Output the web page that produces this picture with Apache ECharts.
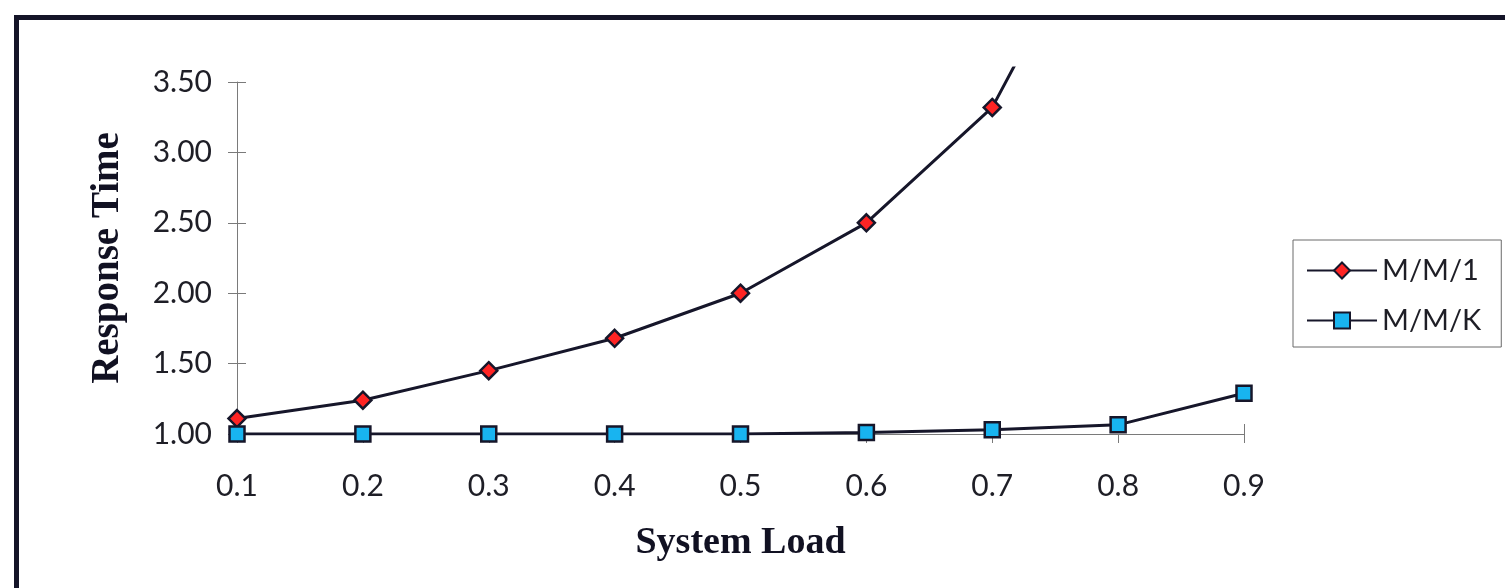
<!DOCTYPE html>
<html>
<head>
<meta charset="utf-8">
<script src="https://cdn.jsdelivr.net/npm/echarts@6/dist/echarts.min.js"></script>
<style>
  html, body { margin: 0; padding: 0; background: #ffffff; }
  #chart { width: 1505px; height: 588px; }
</style>
</head>
<body>
<div id="chart"></div>
<script>
// System load levels (x axis)
const loads = ['0.1', '0.2', '0.3', '0.4', '0.5', '0.6', '0.7', '0.8', '0.9'];
// Mean response time, single-server queue
const mm1 = [1.11, 1.24, 1.45, 1.68, 2.00, 2.50, 3.32, 5.00, 10.00];
// Mean response time, multi-server queue
const mmk = [1.00, 1.00, 1.00, 1.00, 1.00, 1.01, 1.03, 1.065, 1.29];
const seriesNames = ['M/M/1', 'M/M/K'];

const tickFont = 'Lato, "DejaVu Sans", sans-serif';
const titleFont = '"Liberation Serif", "Times New Roman", serif';
const axisGrey = '#7a7a7a';
const lineInk = '#16162a';
const textInk = '#1e1e26';

const chart = echarts.init(document.getElementById('chart'), null, { renderer: 'canvas' });

const plot = { left: 237, right: 261, bottom: 154 };

chart.setOption({
  backgroundColor: '#ffffff',
  animation: false,
  graphic: [{
    type: 'rect',
    shape: { x: 16.5, y: 17.5, width: 1700, height: 800 },
    style: { fill: 'none', stroke: '#141428', lineWidth: 5 },
    silent: true
  }],
  grid: [
    // axes frame
    { left: plot.left, right: plot.right, top: 82, bottom: plot.bottom },
    // data area (slightly taller so the steep curve runs past the top tick)
    { left: plot.left, right: plot.right, top: 68, bottom: plot.bottom }
  ],
  xAxis: [
    {
      gridIndex: 0, type: 'category', data: loads, boundaryGap: false,
      name: 'System Load', nameLocation: 'middle', nameGap: 90,
      nameTextStyle: { fontFamily: titleFont, fontWeight: 'bold', fontSize: 38, color: '#111122' },
      axisLine: { lineStyle: { color: axisGrey, width: 1 } },
      axisTick: { alignWithLabel: true, length: 9, lineStyle: { color: axisGrey } },
      axisLabel: { margin: 37, fontFamily: tickFont, fontWeight: 400, fontSize: 30, color: textInk },
      splitLine: { show: false }
    },
    {
      gridIndex: 0, type: 'category', data: loads, boundaryGap: false, position: 'bottom',
      axisLine: { show: false },
      axisTick: { inside: true, length: 10, interval: (i) => i === loads.length - 1, lineStyle: { color: axisGrey } },
      axisLabel: { show: false }, splitLine: { show: false }
    },
    {
      gridIndex: 1, type: 'category', data: loads, boundaryGap: false, show: false
    }
  ],
  yAxis: [
    {
      gridIndex: 0, type: 'value', min: 1, max: 3.5, interval: 0.5,
      name: 'Response Time', nameLocation: 'middle', nameGap: 110, nameRotate: 90,
      nameTextStyle: { fontFamily: titleFont, fontWeight: 'bold', fontSize: 39, color: '#111122' },
      axisLine: { show: true, lineStyle: { color: axisGrey, width: 1 } },
      axisTick: { show: true, length: 9, lineStyle: { color: axisGrey } },
      axisLabel: { margin: 25, fontFamily: tickFont, fontWeight: 400, fontSize: 30, color: textInk,
                   formatter: (v) => v.toFixed(2) },
      splitLine: { show: false }
    },
    {
      gridIndex: 0, type: 'value', min: 1, max: 3.5, interval: 0.5, position: 'left',
      axisLine: { show: false },
      axisTick: { show: true, inside: true, length: 9, lineStyle: { color: axisGrey } },
      axisLabel: { show: false }, splitLine: { show: false }
    },
    {
      gridIndex: 1, type: 'value', min: 1, max: 3.6, show: false, splitLine: { show: false }
    }
  ],
  legend: {
    orient: 'vertical',
    left: 1293, top: 240,
    padding: [16, 20, 12, 13],
    itemGap: 21,
    itemWidth: 70, itemHeight: 20,
    borderColor: '#6a6a6a', borderWidth: 1,
    backgroundColor: '#ffffff',
    textStyle: { fontFamily: tickFont, fontWeight: 400, fontSize: 29, color: textInk, lineHeight: 20 },
    data: seriesNames
  },
  series: [
    {
      name: seriesNames[0], type: 'line', xAxisIndex: 2, yAxisIndex: 2,
      data: mm1, clip: true,
      symbol: 'diamond', symbolSize: 17,
      lineStyle: { color: lineInk, width: 3 },
      itemStyle: { color: '#ff2424', borderColor: lineInk, borderWidth: 2.5 }
    },
    {
      name: seriesNames[1], type: 'line', xAxisIndex: 2, yAxisIndex: 2,
      data: mmk, clip: true,
      symbol: 'rect', symbolSize: 15,
      lineStyle: { color: lineInk, width: 3 },
      itemStyle: { color: '#18b4f0', borderColor: lineInk, borderWidth: 2.5 }
    }
  ]
});
</script>
</body>
</html>
